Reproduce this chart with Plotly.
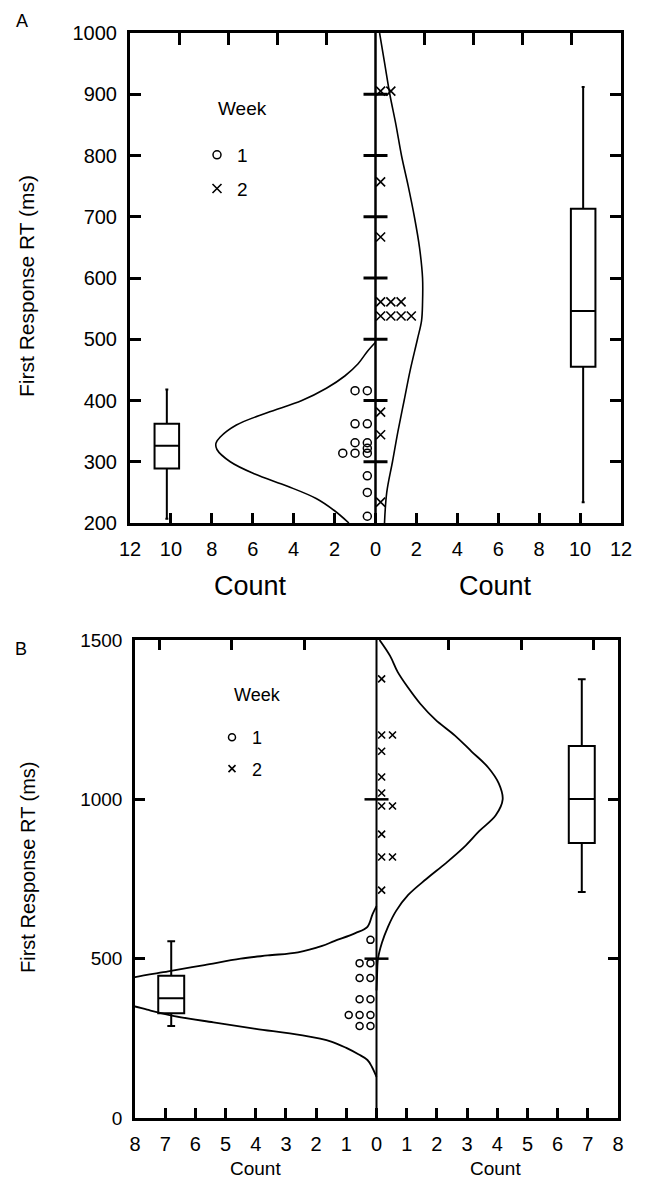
import plotly.graph_objects as go

# ---------------- Panel A data ----------------
a_week1_rt = [416, 416, 362, 362, 331, 331, 322, 314, 314, 314, 277, 250, 211]
a_week2_rt = [905, 905, 757, 667, 561, 561, 561, 538, 538, 538, 538, 381, 344, 234]
a_curve1_rt = [200, 220, 240, 260, 280, 300, 320, 330, 340, 360, 380, 400, 420, 440, 460, 480, 495]
a_curve1_count = [1.3, 2.0, 2.9, 4.3, 5.9, 7.1, 7.75, 7.8, 7.6, 6.8, 5.3, 3.6, 2.4, 1.5, 0.85, 0.4, 0.0]
a_curve2_rt = [200, 250, 300, 350, 400, 450, 500, 530, 560, 600, 650, 700, 750, 800, 850, 900, 950, 1000]
a_curve2_count = [0.44, 0.55, 0.83, 1.1, 1.4, 1.7, 2.05, 2.25, 2.3, 2.3, 2.15, 1.9, 1.6, 1.27, 1.0, 0.7, 0.45, 0.2]
a_box_week1 = [207, 289, 326, 362, 418]   # lower whisker, q1, median, q3, upper whisker
a_box_week2 = [234, 455, 546, 713, 912]
a_yticks = [200, 300, 400, 500, 600, 700, 800, 900, 1000]
a_xticks = [-12, -10, -8, -6, -4, -2, 0, 2, 4, 6, 8, 10, 12]
a_top_ticks = [-9.6, -7.2, -4.8, -2.4, 2.4, 4.8, 7.2, 9.6]
a_yrange = [200, 1000]
a_xmax = 12

# ---------------- Panel B data ----------------
b_week1_rt = [559, 486, 486, 439, 439, 373, 373, 323, 323, 323, 289, 289]
b_week2_rt = [1378, 1202, 1202, 1151, 1070, 1020, 979, 979, 891, 819, 819, 715]
b_curve1_rt = [129, 160, 182, 200, 220, 240, 260, 280, 300, 320, 340, 350, 370, 395,
               420, 442, 460, 480, 500, 510, 520, 540, 555, 580, 600, 640, 665]
b_curve1_count = [0.0, 0.15, 0.3, 0.6, 1.0, 1.5, 2.5, 4.0, 5.4, 6.7, 7.6, 8.0, 9.0, 9.5,
                  9.0, 8.0, 6.9, 5.7, 4.5, 3.6, 2.6, 1.8, 1.4, 0.7, 0.3, 0.13, 0.0]
b_curve2_rt = [400, 450, 500, 550, 600, 650, 700, 750, 800, 850, 900, 950, 1000, 1050,
               1100, 1150, 1200, 1250, 1300, 1350, 1400, 1450, 1500]
b_curve2_count = [0.0, 0.02, 0.05, 0.18, 0.38, 0.65, 1.05, 1.65, 2.3, 2.9, 3.4, 3.95, 4.18, 4.05,
                  3.7, 3.15, 2.6, 1.95, 1.45, 1.05, 0.7, 0.45, 0.1]
b_box_week1 = [289, 329, 376, 446, 555]
b_box_week2 = [709, 863, 1001, 1167, 1377]
b_yticks = [0, 500, 1000, 1500]
b_xticks = [-8, -7, -6, -5, -4, -3, -2, -1, 0, 1, 2, 3, 4, 5, 6, 7, 8]
b_top_ticks = [-7.2, -4.8, -2.4, 2.4, 4.8, 7.2]
b_yrange = [0, 1500]
b_xmax = 8

FONT = "Liberation Sans, Arial, sans-serif"
PAGE_W, PAGE_H = 646, 1188
OFF = 8                       # default page body margin
W, H = PAGE_W - 2 * OFF, PAGE_H - 2 * OFF


def stack_offsets(values, sign, base, step):
    seen = {}
    xs = []
    for v in values:
        k = seen.get(v, 0)
        seen[v] = k + 1
        xs.append(sign * (base + k * step))
    return xs


fig = go.Figure()

# ---------- Panel A traces ----------
fig.add_trace(go.Scatter(x=[-c for c in a_curve1_count], y=a_curve1_rt, mode="lines",
                         line=dict(color="black", width=1.6, shape="spline", smoothing=1),
                         showlegend=False, xaxis="x", yaxis="y", hoverinfo="skip"))
fig.add_trace(go.Scatter(x=a_curve2_count, y=a_curve2_rt, mode="lines",
                         line=dict(color="black", width=1.6, shape="spline", smoothing=1),
                         showlegend=False, xaxis="x", yaxis="y", hoverinfo="skip"))
fig.add_trace(go.Scatter(x=stack_offsets(a_week1_rt, -1, 0.4, 0.6), y=a_week1_rt, mode="markers",
                         marker=dict(symbol="circle-open", size=8, color="black", line=dict(width=1.5)),
                         name="1", legendgroup="a1", legend="legend", xaxis="x", yaxis="y"))
fig.add_trace(go.Scatter(x=stack_offsets(a_week2_rt, 1, 0.25, 0.5), y=a_week2_rt, mode="markers",
                         marker=dict(symbol="x-thin-open", size=9, color="black", line=dict(width=1.6, color="black")),
                         name="2", legendgroup="a2", legend="legend", xaxis="x", yaxis="y"))
for xpos, stats in ((-10.2, a_box_week1), (10.15, a_box_week2)):
    fig.add_trace(go.Box(x=[xpos], lowerfence=[stats[0]], q1=[stats[1]], median=[stats[2]],
                         q3=[stats[3]], upperfence=[stats[4]], width=1.2, whiskerwidth=0.12,
                         line=dict(color="black", width=2), fillcolor="rgba(0,0,0,0)",
                         boxpoints=False, showlegend=False, xaxis="x", yaxis="y", hoverinfo="skip"))
fig.add_trace(go.Scatter(x=[0, 0], y=a_yrange, mode="lines", line=dict(color="black", width=2.5),
                         showlegend=False, xaxis="x3", yaxis="y", hoverinfo="skip"))

# ---------- Panel B traces ----------
fig.add_trace(go.Scatter(x=[-c for c in b_curve1_count], y=b_curve1_rt, mode="lines",
                         line=dict(color="black", width=1.8, shape="spline", smoothing=1),
                         showlegend=False, xaxis="x2", yaxis="y2", hoverinfo="skip"))
fig.add_trace(go.Scatter(x=b_curve2_count, y=b_curve2_rt, mode="lines",
                         line=dict(color="black", width=1.8, shape="spline", smoothing=1),
                         showlegend=False, xaxis="x2", yaxis="y2", hoverinfo="skip"))
fig.add_trace(go.Scatter(x=stack_offsets(b_week1_rt, -1, 0.2, 0.36), y=b_week1_rt, mode="markers",
                         marker=dict(symbol="circle-open", size=7, color="black", line=dict(width=1.5)),
                         name="1", legendgroup="b1", legend="legend2", xaxis="x2", yaxis="y2"))
fig.add_trace(go.Scatter(x=stack_offsets(b_week2_rt, 1, 0.17, 0.36), y=b_week2_rt, mode="markers",
                         marker=dict(symbol="x-thin-open", size=7, color="black", line=dict(width=1.6, color="black")),
                         name="2", legendgroup="b2", legend="legend2", xaxis="x2", yaxis="y2"))
for xpos, stats in ((-6.8, b_box_week1), (6.8, b_box_week2)):
    fig.add_trace(go.Box(x=[xpos], lowerfence=[stats[0]], q1=[stats[1]], median=[stats[2]],
                         q3=[stats[3]], upperfence=[stats[4]], width=0.86, whiskerwidth=0.3,
                         line=dict(color="black", width=2), fillcolor="rgba(0,0,0,0)",
                         boxpoints=False, showlegend=False, xaxis="x2", yaxis="y2", hoverinfo="skip"))
fig.add_trace(go.Scatter(x=[0, 0], y=b_yrange, mode="lines", line=dict(color="black", width=2),
                         showlegend=False, xaxis="x4", yaxis="y2", hoverinfo="skip"))

# ---------- layout ----------
def px_x(p):
    return (p - OFF) / W


def px_y(p):
    return 1 - (p - OFF) / H


a_dom_x = [px_x(130), px_x(621)]
a_dom_y = [px_y(523), px_y(33)]
b_dom_x = [px_x(135), px_x(618)]
b_dom_y = [px_y(1118), px_y(640)]

common_x = dict(showgrid=False, zeroline=False, showline=True, linecolor="black", mirror=True,
                ticks="inside", tickcolor="black", fixedrange=True, automargin=False)
common_y = dict(showgrid=False, zeroline=False, showline=True, linecolor="black", mirror="ticks",
                ticks="inside", tickcolor="black", fixedrange=True, automargin=False)
overlay_x = dict(side="top", ticks="inside", tickcolor="black", showticklabels=False,
                 showline=False, showgrid=False, zeroline=False, fixedrange=True, automargin=False)

fig.update_layout(
    template="none",
    width=W, height=H, margin=dict(l=0, r=0, t=0, b=0, pad=0, autoexpand=False),
    paper_bgcolor="white", plot_bgcolor="white",
    font=dict(family=FONT, color="black"),
    boxmode="overlay",
    xaxis=dict(common_x, domain=a_dom_x, range=[-a_xmax, a_xmax], anchor="y",
               tickvals=a_xticks, ticktext=[str(abs(v)) for v in a_xticks],
               ticklen=10, tickwidth=3, linewidth=3, tickfont=dict(size=20), ticklabelstandoff=6),
    yaxis=dict(common_y, domain=a_dom_y, range=a_yrange, anchor="x",
               tickvals=a_yticks, ticklen=11, tickwidth=3, linewidth=3,
               tickfont=dict(size=20), ticklabelstandoff=6),
    xaxis3=dict(overlay_x, overlaying="x", anchor="y", range=[-a_xmax, a_xmax],
                tickvals=a_top_ticks, ticklen=12, tickwidth=3),
    xaxis2=dict(common_x, domain=b_dom_x, range=[-b_xmax, b_xmax], anchor="y2",
                tickvals=b_xticks, ticktext=[str(abs(v)) for v in b_xticks],
                ticklen=10, tickwidth=2.5, linewidth=2.5, tickfont=dict(size=20), ticklabelstandoff=6),
    yaxis2=dict(common_y, domain=b_dom_y, range=b_yrange, anchor="x2",
                tickvals=b_yticks, ticklen=10, tickwidth=2.5, linewidth=2.5,
                tickfont=dict(size=19), ticklabelstandoff=6),
    xaxis4=dict(overlay_x, overlaying="x2", anchor="y2", range=[-b_xmax, b_xmax],
                tickvals=b_top_ticks, ticklen=10, tickwidth=2.5),
    legend=dict(x=px_x(197), y=px_y(136), xanchor="left", yanchor="top",
                font=dict(size=19), bgcolor="rgba(0,0,0,0)", tracegroupgap=6,
                itemsizing="trace"),
    legend2=dict(x=px_x(212), y=px_y(719), xanchor="left", yanchor="top",
                 font=dict(size=18), bgcolor="rgba(0,0,0,0)", tracegroupgap=5,
                 itemsizing="trace"),
)

# centre-line crossing ticks
shapes = []
for v in a_yticks[1:-1]:
    shapes.append(dict(type="line", xref="x", yref="y", xsizemode="pixel", xanchor=0,
                       x0=-12, x1=12, y0=v, y1=v, line=dict(color="black", width=3)))
for v in b_yticks[1:-1]:
    shapes.append(dict(type="line", xref="x2", yref="y2", xsizemode="pixel", xanchor=0,
                       x0=-12, x1=12, y0=v, y1=v, line=dict(color="black", width=2.5)))
fig.update_layout(shapes=shapes)


def label(text, px, py, size, angle=0):
    return dict(text=text, x=px_x(px), y=px_y(py), xref="paper", yref="paper",
                xanchor="center", yanchor="middle", showarrow=False, textangle=angle,
                font=dict(size=size))


ann = [
    label("A", 22, 21, 18),
    label("B", 21, 649, 18),
    label("Week", 242, 108, 19),
    label("Week", 257, 695, 18),
    label("First Response RT (ms)", 26, 286, 21, -90),
    label("First Response RT (ms)", 28, 867, 20, -90),
    label("Count", 250, 586, 27),
    label("Count", 495, 586, 27),
    label("Count", 255, 1168, 19),
    label("Count", 495, 1168, 19),
]
fig.update_layout(annotations=ann)

fig.write_html("out.html")
